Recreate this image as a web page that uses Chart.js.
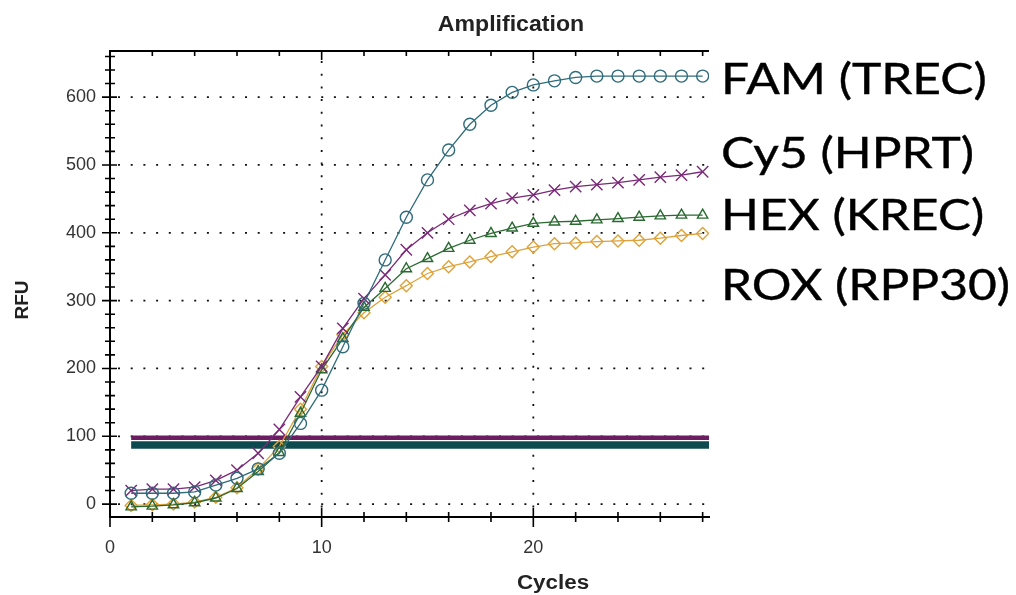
<!DOCTYPE html>
<html>
<head>
<meta charset="utf-8">
<script src="https://cdn.jsdelivr.net/npm/chart.js@4.4.1/dist/chart.umd.min.js"></script>
<style>
  html, body { margin: 0; padding: 0; background: #fff; }
  #wrap { position: relative; width: 1016px; height: 595px; overflow: hidden; background: #fff; }
  #wrap canvas { position: absolute; left: 0; top: 0; }
  .txt { position: absolute; white-space: nowrap; color: #222; }
  #title { left: 411px; width: 200px; top: 13px; text-align: center; font: bold 22px 'Liberation Sans', Arial, sans-serif; line-height: 22px; transform: scaleX(1.05); }
  #cycles { left: 453px; width: 200px; top: 572px; text-align: center; font: bold 20px 'Liberation Sans', Arial, sans-serif; line-height: 20px; transform: scaleX(1.12); }
  #rfu { left: -28px; width: 100px; top: 290px; text-align: center; font: bold 19px 'Liberation Sans', Arial, sans-serif; line-height: 20px; transform: rotate(-90deg); }
  .channel { left: 721px; font-family: Lato, 'Open Sans', sans-serif; font-size: 43px; line-height: 43px; color: #000; transform: scaleX(1.155); transform-origin: left center; -webkit-text-stroke: 0.4px #000; }
</style>
</head>
<body>
<div id="wrap">
  <canvas id="chart" width="1016" height="595"></canvas>
  <div class="txt" id="title">Amplification</div>
  <div class="txt" id="rfu">RFU</div>
  <div class="txt" id="cycles">Cycles</div>
  <div class="txt channel" style="top:56px">FAM (TREC)</div>
  <div class="txt channel" style="top:130px">Cy5 (HPRT)</div>
  <div class="txt channel" style="top:192px">HEX (KREC)</div>
  <div class="txt channel" style="top:262px">ROX (RPP30)</div>
</div>
<script>
// values
const cycles = [1, 2, 3, 4, 5, 6, 7, 8, 9, 10, 11, 12, 13, 14, 15, 16, 17, 18, 19, 20, 21, 22, 23, 24, 25, 26, 27, 28];
const famTrec = [16, 16, 16, 18, 28, 38, 52, 75, 119, 168, 232, 296, 360, 423, 478, 522, 560, 588, 607, 618, 624, 629, 631, 631, 631, 631, 631, 631];
const cy5Hprt = [20, 22, 22, 25, 35, 50, 75, 110, 158, 203, 259, 303, 338, 375, 400, 420, 433, 443, 451, 456, 463, 468, 471, 474, 478, 482, 485, 490];
const hexKrec = [-4, -3, -1, 2, 9, 23, 48, 76, 134, 198, 244, 290, 318, 347, 362, 377, 389, 399, 407, 414, 416, 417, 419, 421, 423, 425, 426, 426];
const roxRpp30 = [-2, -1, 0, 3, 10, 24, 52, 85, 140, 203, 250, 282, 305, 322, 340, 350, 357, 365, 372, 379, 384, 385, 387, 388, 389, 392, 396, 399];
const thresholdCy5 = 98;
const thresholdOther = 87;

const X_MIN = 0;
const X_MAX = 28.3;
const Y_MIN = -19;
const Y_MAX = 668;
const xLabelTicks = [0, 10, 20];
const yLabelTicks = [0, 100, 200, 300, 400, 500, 600];

const FONT = "'Liberation Sans', Arial, sans-serif";

function curve(label, values, color, style, radius) {
  return {
    label: label,
    data: cycles.map((c, i) => ({ x: c, y: values[i] })),
    borderColor: color,
    backgroundColor: 'rgba(0,0,0,0)',
    borderWidth: 1.3,
    pointStyle: style,
    pointRadius: radius,
    pointBorderColor: color,
    pointBackgroundColor: 'rgba(0,0,0,0)',
    pointBorderWidth: 1.4,
    tension: 0
  };
}

function threshold(label, value, color, width) {
  return {
    label: label,
    data: [{ x: cycles[0], y: value }, { x: X_MAX, y: value }],
    borderColor: color,
    borderWidth: width,
    pointRadius: 0,
    tension: 0
  };
}

// dotted grid, crossing tick marks and the top frame line
const axisDecor = {
  id: 'axisDecor',
  beforeDatasetsDraw(chart) {
    const { ctx, chartArea: a, scales: { x, y } } = chart;
    ctx.save();
    ctx.strokeStyle = '#111';
    ctx.lineWidth = 1.8;
    ctx.setLineDash([2, 10.7]);
    y.ticks.forEach(t => {
      if (!yLabelTicks.includes(t.value)) return;
      const py = y.getPixelForValue(t.value);
      ctx.beginPath();
      ctx.moveTo(a.left + 8, py);
      ctx.lineTo(a.right, py);
      ctx.stroke();
    });
    x.ticks.forEach(t => {
      if (!xLabelTicks.includes(t.value) || t.value === X_MIN) return;
      const px = x.getPixelForValue(t.value);
      ctx.beginPath();
      ctx.moveTo(px, a.top + 10);
      ctx.lineTo(px, a.bottom);
      ctx.stroke();
    });
    ctx.restore();
  },
  afterDraw(chart) {
    const { ctx, chartArea: a, scales: { x, y } } = chart;
    ctx.save();
    ctx.strokeStyle = '#000';
    ctx.lineWidth = 1.6;
    ctx.beginPath();
    y.ticks.forEach(t => {
      const py = y.getPixelForValue(t.value);
      const major = yLabelTicks.includes(t.value);
      ctx.moveTo(a.left - (major ? 8 : 5), py);
      ctx.lineTo(a.left + (major ? 7 : 5), py);
    });
    x.ticks.forEach(t => {
      const px = x.getPixelForValue(t.value);
      const major = xLabelTicks.includes(t.value);
      ctx.moveTo(px, a.bottom - (major ? 9 : 5));
      ctx.lineTo(px, a.bottom + (major ? 10 : 5));
      ctx.moveTo(px, a.top);
      ctx.lineTo(px, a.top + (major ? 9 : 5));
    });
    ctx.stroke();
    ctx.lineWidth = 2;
    ctx.beginPath();
    ctx.moveTo(a.left - 1, a.top);
    ctx.lineTo(a.right, a.top);
    ctx.stroke();
    ctx.restore();
  }
};

new Chart(document.getElementById('chart'), {
  type: 'line',
  data: {
    datasets: [
      curve('FAM (TREC)', famTrec, '#2f6c7b', 'circle', 6),
      curve('Cy5 (HPRT)', cy5Hprt, '#7a2878', 'crossRot', 8),
      curve('HEX (KREC)', hexKrec, '#2a6a30', 'triangle', 6),
      curve('ROX (RPP30)', roxRpp30, '#dea23a', 'rectRot', 6),
      threshold('Cy5 threshold', thresholdCy5, '#6c1d62', 4.5),
      threshold('FAM/HEX/ROX threshold', thresholdOther, '#0c4a4f', 7.5)
    ]
  },
  options: {
    responsive: false,
    animation: false,
    devicePixelRatio: 1,
    layout: { padding: { top: 51, right: 307, left: 0, bottom: 0 } },
    plugins: {
      legend: { display: false },
      tooltip: { enabled: false },
      title: { display: false }
    },
    scales: {
      x: {
        type: 'linear',
        min: X_MIN,
        max: X_MAX,
        grid: { display: false, drawTicks: false },
        border: { display: true, color: '#000', width: 2 },
        ticks: {
          stepSize: 2,
          includeBounds: false,
          autoSkip: false,
          maxRotation: 0,
          padding: 20,
          color: '#333',
          font: { family: FONT, size: 18 },
          callback: v => (xLabelTicks.includes(v) ? v : '')
        },
        afterFit: s => { s.height = 78; }
      },
      y: {
        type: 'linear',
        min: Y_MIN,
        max: Y_MAX,
        grid: { display: false, drawTicks: false },
        border: { display: true, color: '#000', width: 2 },
        ticks: {
          stepSize: 20,
          includeBounds: false,
          autoSkip: false,
          padding: 14,
          color: '#333',
          font: { family: FONT, size: 18 },
          callback: v => (yLabelTicks.includes(v) ? v : '')
        },
        afterFit: s => { s.width = 110; }
      }
    }
  },
  plugins: [axisDecor]
});
</script>
</body>
</html>
